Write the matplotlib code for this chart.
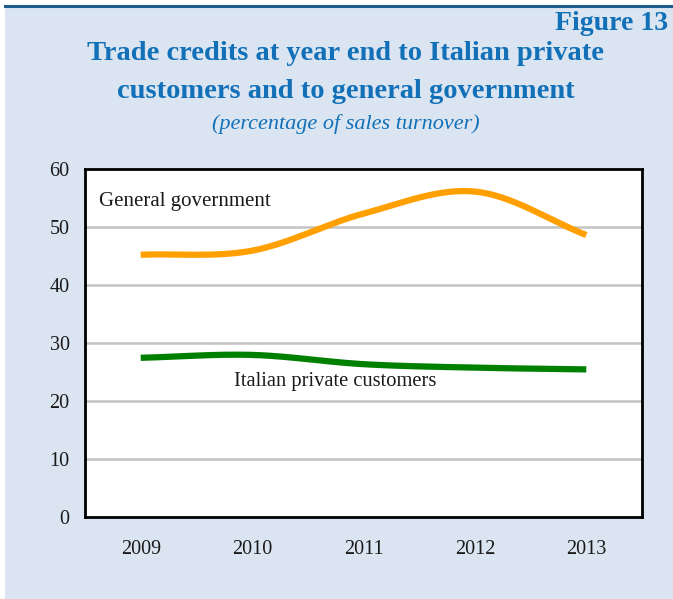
import numpy as np
import matplotlib
matplotlib.use("Agg")
import matplotlib.pyplot as plt
from matplotlib.patches import Rectangle
from matplotlib.lines import Line2D

# Data (percentage of sales turnover)
years = ["2009", "2010", "2011", "2012", "2013"]
general_government = [45.2, 45.9, 52.3, 56.1, 48.6]
private_customers = [27.4, 27.9, 26.3, 25.7, 25.4]
y_ticks = [0, 10, 20, 30, 40, 50, 60]


def smooth(values, steps=40):
    """Catmull-Rom spline through the points (spreadsheet-style smoothed line)."""
    v = np.asarray(values, dtype=float)
    x = np.arange(len(v), dtype=float)
    n = len(v)
    # tangents
    m = np.zeros(n)
    m[1:-1] = (v[2:] - v[:-2]) / 2.0
    m[0] = v[1] - v[0]
    m[-1] = v[-1] - v[-2]
    xs, ys = [], []
    for i in range(n - 1):
        t = np.linspace(0, 1, steps, endpoint=(i == n - 2))
        h00 = 2 * t**3 - 3 * t**2 + 1
        h10 = t**3 - 2 * t**2 + t
        h01 = -2 * t**3 + 3 * t**2
        h11 = t**3 - t**2
        xs.append(x[i] + t)
        ys.append(h00 * v[i] + h10 * m[i] + h01 * v[i + 1] + h11 * m[i + 1])
    return np.concatenate(xs), np.concatenate(ys)


W, H = 673, 599
fig = plt.figure(figsize=(W / 100, H / 100), dpi=100)
fig.patch.set_facecolor("white")

panel_color = "#dbe5f1"
title_color = "#1170b8"
serif = ["Liberation Serif", "DejaVu Serif"]

# background panel and top rule
fig.add_artist(Rectangle((5 / W, 0), 1 - 5 / W, 1 - 7 / H, transform=fig.transFigure,
                         facecolor=panel_color, edgecolor="none", zorder=0))
fig.add_artist(Line2D([5 / W, 1], [1 - 6 / H, 1 - 6 / H], transform=fig.transFigure,
                      color="#1f5d8c", linewidth=2.2, zorder=1))

# titles
fig.text(668 / W, 1 - 23 / H, "Figure 13", ha="right", va="center",
         fontsize=20, fontweight="bold", color=title_color, family=serif)
fig.text(346 / W, 1 - 54 / H, "Trade credits at year end to Italian private",
         ha="center", va="center", fontsize=20.5, fontweight="bold",
         color=title_color, family=serif)
fig.text(346 / W, 1 - 91 / H, "customers and to general government",
         ha="center", va="center", fontsize=20.5, fontweight="bold",
         color=title_color, family=serif)
fig.text(346 / W, 1 - 124 / H, "(percentage of sales turnover)",
         ha="center", va="center", fontsize=16, style="italic",
         color=title_color, family=serif)

# plot area
left, right, top, bottom = 85, 642, 169, 516.5
ax = fig.add_axes([left / W, 1 - bottom / H, (right - left) / W, (bottom - top) / H])
ax.set_facecolor("white")
ax.set_zorder(2)

x_idx = np.arange(len(years))
ax.set_xlim(-0.5, len(years) - 0.5)
ax.set_ylim(0, 60)
ax.set_yticks(y_ticks)
ax.set_xticks(x_idx)
ax.set_xticklabels(years)
for t in ax.get_xticklabels() + ax.get_yticklabels():
    t.set_fontfamily(serif)
    t.set_fontsize(14.5)
    t.set_color("#1a1a1a")
ax.tick_params(axis="both", length=0)
ax.tick_params(axis="y", pad=11)
ax.tick_params(axis="x", pad=17)

for v in y_ticks[1:-1]:
    ax.axhline(v, color="#c3c3c3", linewidth=1.8, zorder=1)

for s in ax.spines.values():
    s.set_color("black")
    s.set_linewidth(2.0)

gx, gy = smooth(general_government)
px, py = smooth(private_customers)
ax.plot(gx, gy, color="#ffa000", linewidth=4.5, solid_capstyle="butt", zorder=3)
ax.plot(px, py, color="#008000", linewidth=4.5, solid_capstyle="butt", zorder=3)

ax.text(-0.37, 54.4, "General government", ha="left", va="center",
        fontsize=15, family=serif, color="#1a1a1a")
ax.text(0.84, 23.3, "Italian private customers", ha="left", va="center",
        fontsize=14.8, family=serif, color="#1a1a1a")

fig.savefig("out.png", dpi=100, facecolor=fig.get_facecolor())
